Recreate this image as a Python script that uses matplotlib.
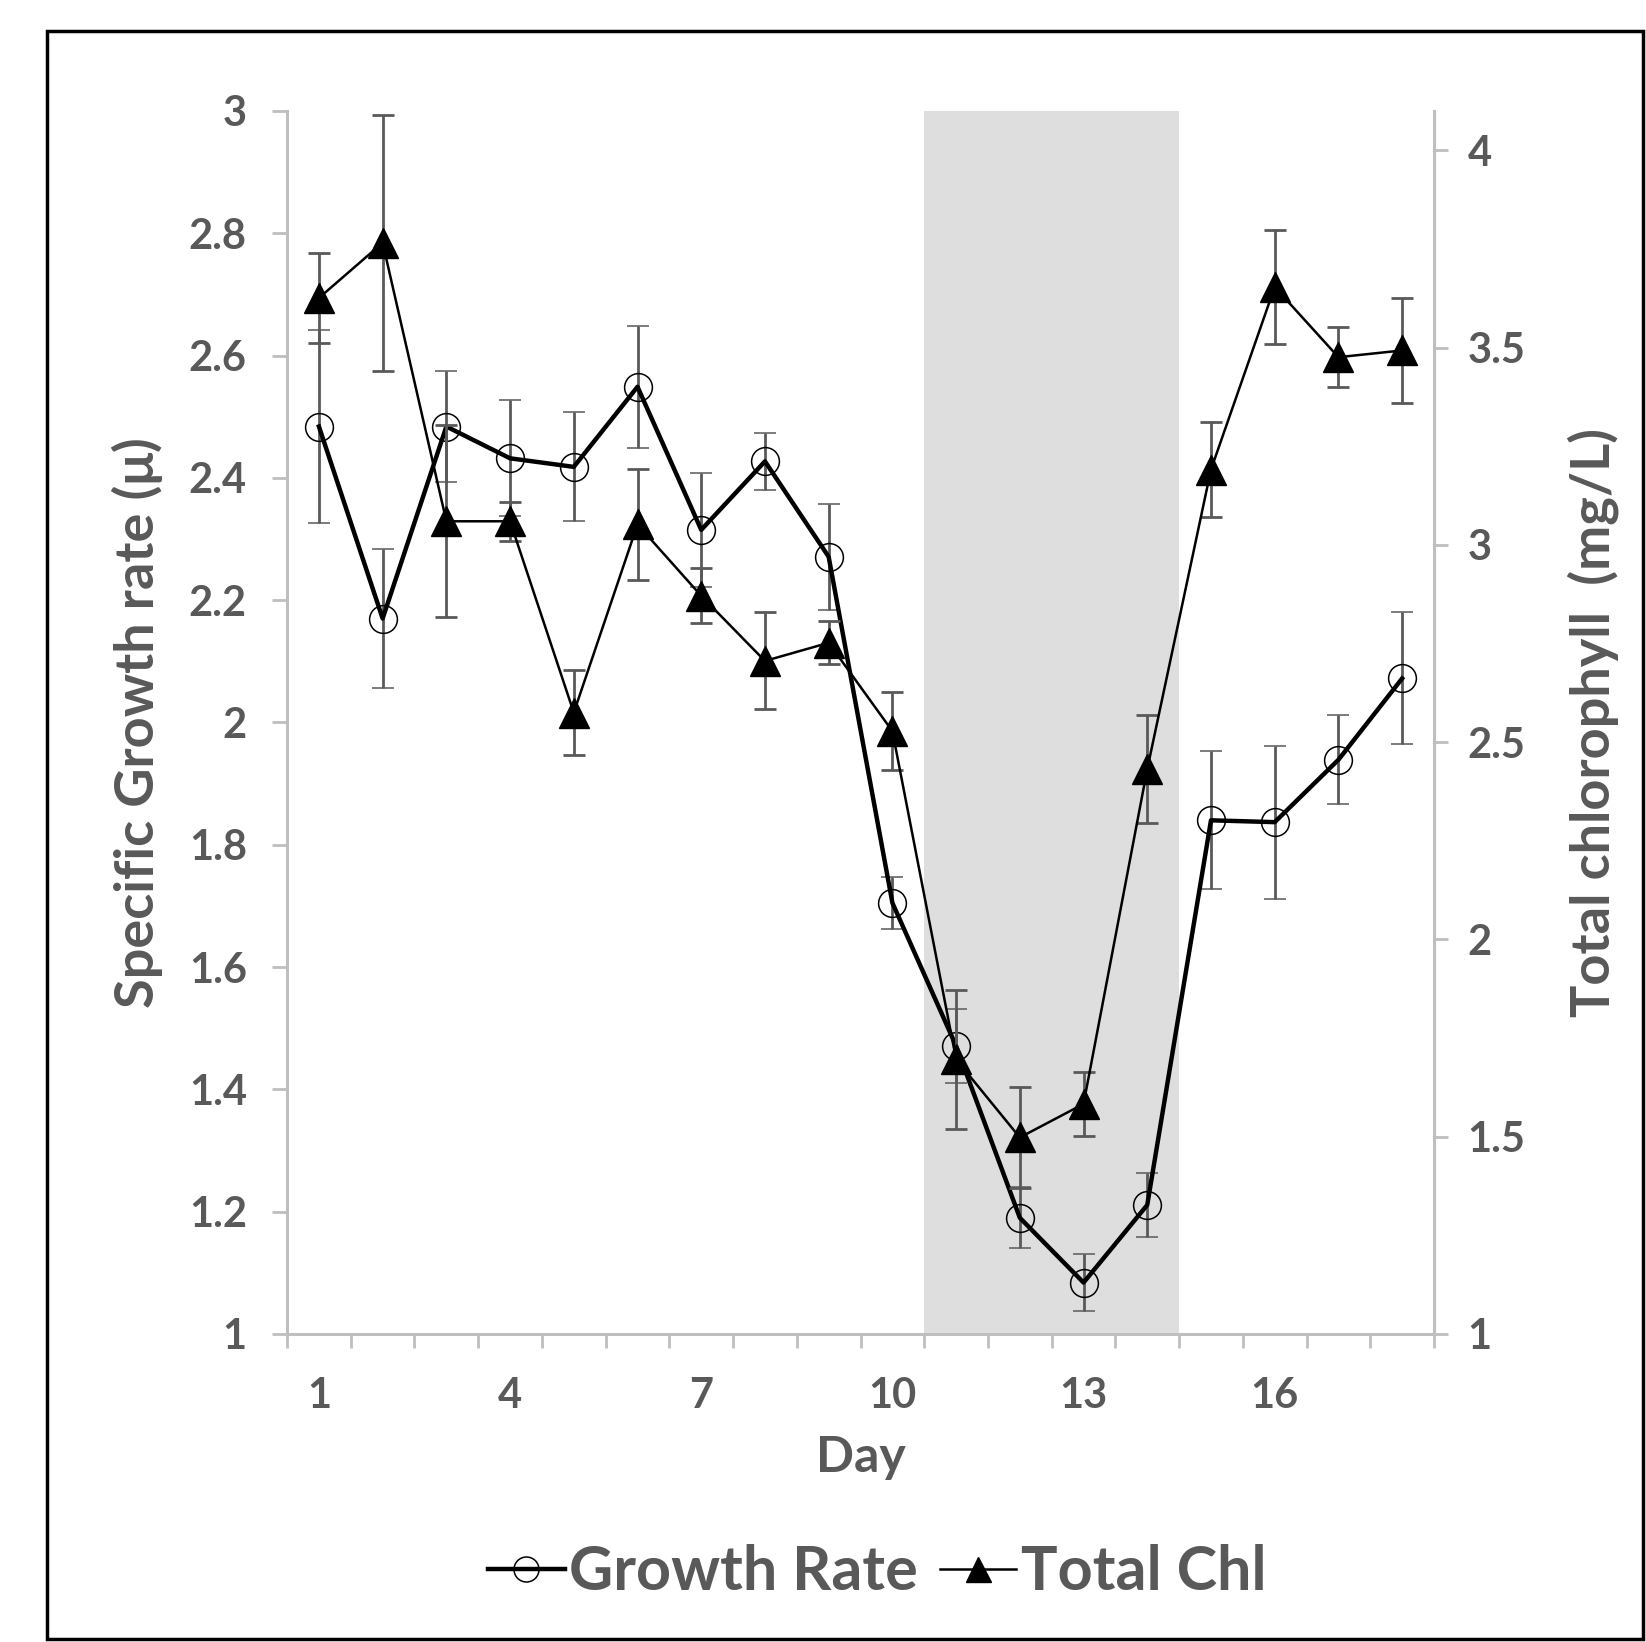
import numpy as np
import matplotlib.pyplot as plt
from matplotlib.lines import Line2D
from matplotlib.patches import Rectangle

days = np.arange(1, 19)
growth = [2.484, 2.170, 2.484, 2.432, 2.418, 2.549, 2.315, 2.427, 2.271,
          1.705, 1.471, 1.190, 1.084, 1.211, 1.840, 1.837, 1.939, 2.072]
growth_err = [0.158, 0.113, 0.090, 0.095, 0.089, 0.100, 0.093, 0.047, 0.087,
              0.043, 0.060, 0.050, 0.047, 0.053, 0.113, 0.125, 0.073, 0.108]
chl = [3.626, 3.766, 3.060, 3.060, 2.575, 3.052, 2.871, 2.706, 2.752,
       2.528, 1.696, 1.498, 1.583, 2.432, 3.191, 3.654, 3.476, 3.493]
chl_err = [0.115, 0.325, 0.243, 0.050, 0.108, 0.141, 0.070, 0.123, 0.055,
           0.098, 0.176, 0.128, 0.082, 0.136, 0.120, 0.144, 0.076, 0.133]

day_labels = [1, 4, 7, 10, 13, 16]
left_ticks = np.round(np.arange(1, 3.01, 0.2), 1)
right_ticks = np.arange(1, 4.01, 0.5)

grey = '#595959'
axis_grey = '#bfbfbf'
plt.rcParams['font.family'] = ['Lato', 'DejaVu Sans']

fig = plt.figure(figsize=(16.46, 16.42), dpi=100)
ax = fig.add_axes([0.1744, 0.1876, 0.6968, 0.7448])
ax2 = ax.twinx()

# stress period shading
ax.axvspan(10.5, 14.5, color='#dedede', lw=0, zorder=0)

ax.errorbar(days, growth, yerr=growth_err, color='black', lw=3.2,
            marker='o', ms=20, mfc='none', mec='black', mew=1.1,
            ecolor=grey, elinewidth=2, capsize=8, capthick=2)
ax2.errorbar(days, chl, yerr=chl_err, color='black', lw=1.8,
             marker='^', ms=21, mfc='black', mec='black',
             ecolor=grey, elinewidth=2, capsize=8, capthick=2)

ax.set_xlim(0.5, 18.5)
ax.set_ylim(1, 3)
ax2.set_ylim(1, 4.1)

ax.set_xticks(day_labels)
ax.set_xticklabels([str(d) for d in day_labels])
ax.set_xticks(np.arange(0.5, 18.6, 1), minor=True)
ax.tick_params(axis='x', which='major', length=0, pad=31)
ax.tick_params(axis='x', which='minor', length=10, width=2, color=axis_grey)

ax.set_yticks(left_ticks)
ax.set_yticklabels([f'{v:g}' for v in left_ticks])
ax.tick_params(axis='y', length=11, width=2, color=axis_grey, pad=18)
ax2.set_yticks(right_ticks)
ax2.set_yticklabels([f'{v:g}' for v in right_ticks])
ax2.tick_params(axis='y', length=10, width=2, color=axis_grey, pad=14)

for a in (ax, ax2):
    for lab in a.get_xticklabels() + a.get_yticklabels():
        lab.set_fontsize(30)
        lab.set_fontweight('bold')
        lab.set_color(grey)

for s in ['top', 'right']:
    ax.spines[s].set_visible(False)
for s in ['top', 'left', 'bottom']:
    ax2.spines[s].set_visible(False)
ax.spines['left'].set_color(axis_grey)
ax.spines['bottom'].set_color(axis_grey)
ax2.spines['right'].set_color(axis_grey)
for sp in (ax.spines['left'], ax.spines['bottom'], ax2.spines['right']):
    sp.set_linewidth(2.2)

ax.set_xlabel('Day', fontsize=36, fontweight='bold', color=grey)
ax.xaxis.set_label_coords(0.5, -0.083)
ax.set_ylabel('Specific Growth rate (\u03bc)', fontsize=39, fontweight='bold', color=grey)
ax.yaxis.set_label_coords(-0.108, 0.5)
ax2.set_ylabel('Total chlorophyll  (mg/L)', fontsize=39, fontweight='bold', color=grey)
ax2.yaxis.set_label_coords(1.116, 0.5)

handles = [
    Line2D([], [], color='black', lw=3.2, marker='o', ms=18, mfc='none', mec='black', mew=1.1),
    Line2D([], [], color='black', lw=1.8, marker='^', ms=18, mfc='black', mec='black'),
]
leg = fig.legend(handles, ['Growth Rate', 'Total Chl'], loc='center',
                 bbox_to_anchor=(0.533, 0.0426), ncol=2, frameon=False,
                 handlelength=1.25, handletextpad=0.08, columnspacing=0.35,
                 prop={'weight': 'bold', 'size': 44})
for t in leg.get_texts():
    t.set_color(grey)

fig.add_artist(Rectangle((0.0286, 0.0018), 0.9696, 0.9793, transform=fig.transFigure,
                         fill=False, ec='black', lw=2.5))

fig.savefig('out.png', dpi=100)
